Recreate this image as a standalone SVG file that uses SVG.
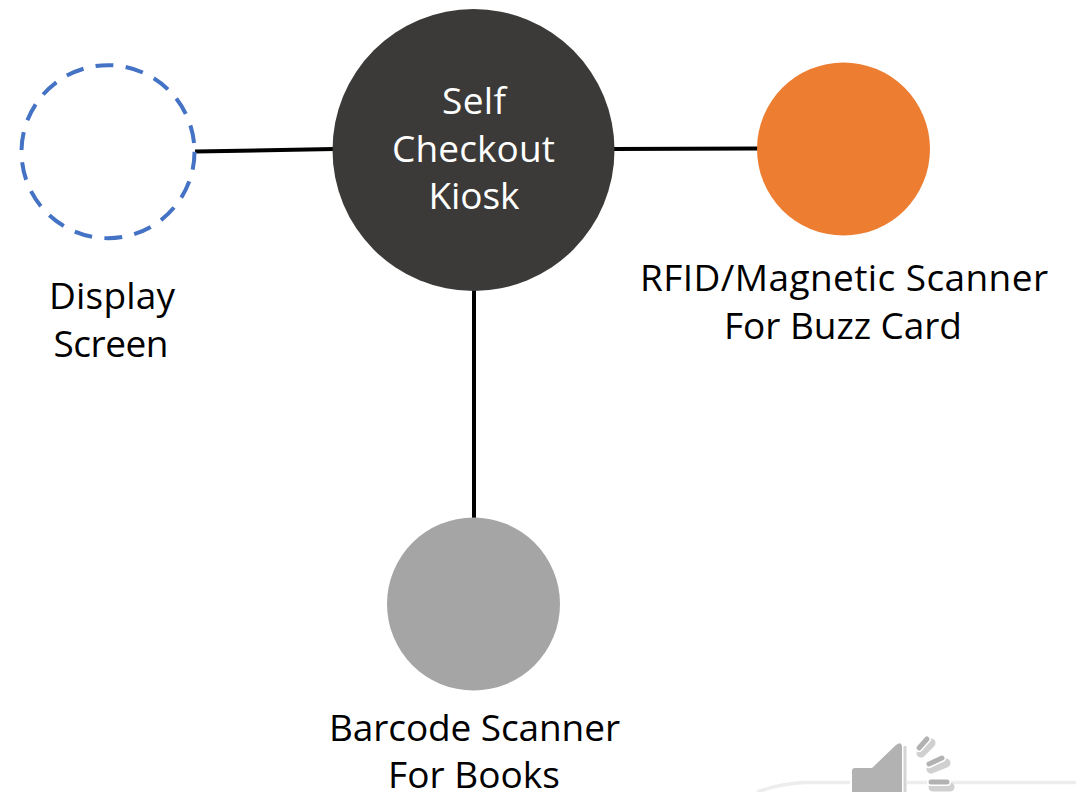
<svg xmlns="http://www.w3.org/2000/svg" width="1076" height="792" viewBox="0 0 1076 792">
<style>
text{font-family:"Open Sans","Noto Sans","Liberation Sans",sans-serif;font-size:37px;text-anchor:middle;fill:#000}
.c{stroke:#000;stroke-width:4;fill:none}
.w{fill:#fff}
.wave{fill:none;stroke-linecap:round}
</style>
<rect width="1076" height="792" fill="#fff"/>
<g id="speaker">
<path d="M757,792 Q782,783 805,782.500 H1076" fill="none" stroke="#ededed" stroke-width="3.500"/>
<rect x="850" y="740" width="57" height="52" fill="#fff"/>
<path d="M852,771 Q852,768 855,768 H872 L896,745 Q901,741 902,746 V792 H852 Z" fill="#b2b2b2"/>
<path d="M905,746 V792" stroke="#d4d4d4" stroke-width="3" fill="none"/>
<line class="wave" x1="921" y1="753" x2="931" y2="743" stroke="#d0d0d0" stroke-width="9"/>
<line class="wave" x1="931" y1="769" x2="946" y2="763" stroke="#d0d0d0" stroke-width="9"/>
<line class="wave" x1="933" y1="787" x2="950" y2="787" stroke="#d0d0d0" stroke-width="9"/>
<line class="wave" x1="919" y1="748" x2="927" y2="739" stroke="#fff" stroke-width="8"/>
<line class="wave" x1="929" y1="764" x2="942" y2="758" stroke="#fff" stroke-width="8"/>
<line class="wave" x1="931" y1="782" x2="947" y2="782" stroke="#fff" stroke-width="8"/>
<line class="wave" x1="919" y1="748" x2="927" y2="739" stroke="#b2b2b2" stroke-width="5"/>
<line class="wave" x1="929" y1="764" x2="942" y2="758" stroke="#b2b2b2" stroke-width="5"/>
<line class="wave" x1="931" y1="782" x2="947" y2="782" stroke="#b2b2b2" stroke-width="5"/>
</g>
<g id="connectors">
<line class="c" x1="195" y1="151.500" x2="334" y2="149"/>
<line class="c" x1="614" y1="149" x2="758" y2="148.500"/>
<line class="c" x1="474" y1="290" x2="474" y2="519"/>
</g>
<g id="kiosk"><circle cx="473.500" cy="150" r="141" fill="#3b3a38"/>
<text class="w" x="474" y="114" textLength="64">Self</text><text class="w" x="473.500" y="162" textLength="163">Checkout</text><text class="w" x="474" y="209" textLength="91">Kiosk</text></g>
<g id="display"><circle cx="108" cy="151.700" r="86.500" fill="#fff" stroke="#4472c4" stroke-width="4" stroke-dasharray="18 12.340"/>
<text x="112" y="309" textLength="126">Display</text><text x="111" y="357" textLength="115">Screen</text></g>
<g id="rfid"><circle cx="843.500" cy="149" r="86.500" fill="#ed7d31"/>
<text x="844" y="291" textLength="408">RFID/Magnetic Scanner</text><text x="843" y="339" textLength="238">For Buzz Card</text></g>
<g id="barcode"><circle cx="473.500" cy="604" r="86.500" fill="#a5a5a5"/>
<text x="474.500" y="741" textLength="291">Barcode Scanner</text><text x="474" y="788" textLength="172">For Books</text></g>
</svg>
